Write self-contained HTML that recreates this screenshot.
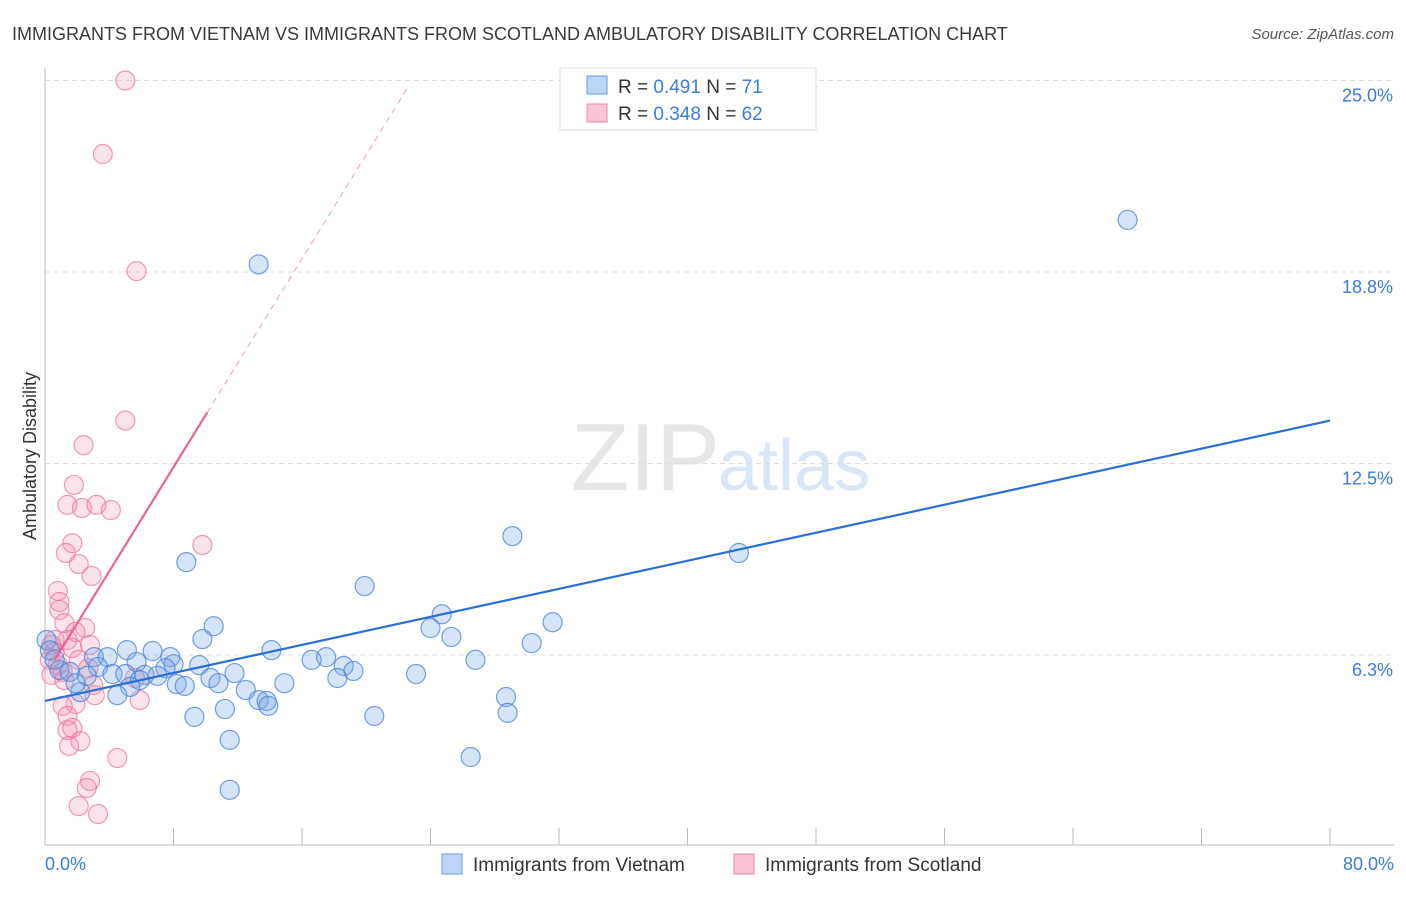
<!DOCTYPE html>
<html><head><meta charset="utf-8"><style>
body{margin:0;background:#fff;font-family:"Liberation Sans",sans-serif}
svg text{font-family:"Liberation Sans",sans-serif}
</style></head><body>
<svg id="c" width="1406" height="892">
<text x="12" y="40" font-size="18" fill="#3a3a3a">IMMIGRANTS FROM VIETNAM VS IMMIGRANTS FROM SCOTLAND AMBULATORY DISABILITY CORRELATION CHART</text>
<text x="1394" y="39" font-size="15" fill="#555" font-style="italic" text-anchor="end">Source: ZipAtlas.com</text>
<text x="720" y="490" font-size="96" fill="#e6e6e6" font-family="Liberation Serif" text-anchor="end">ZIP</text>
<text x="718" y="490" font-size="72" fill="#d8e6f6">atlas</text>
<g id="grid"></g><g id="pts"></g><g id="lines"></g>
<text x="36" y="456" font-size="18" fill="#333" text-anchor="middle" transform="rotate(-90 36 456)">Ambulatory Disability</text>
<text x="45" y="870" font-size="18" fill="#3b7dd8">0.0%</text>
<text x="1394" y="870" font-size="18" fill="#3b7dd8" text-anchor="end">80.0%</text>
<g>
<rect x="560" y="68" width="256" height="62" fill="#fff" stroke="#ddd"/>
<rect x="587" y="76" width="20" height="18" fill="#bcd4f5" stroke="#6b9de0"/>
<rect x="587" y="104" width="20" height="18" fill="#f9c5d5" stroke="#ea8aa8"/>
<text x="618" y="93" font-size="19" fill="#333">R = <tspan fill="#3b7dd8">0.491</tspan>   N = <tspan fill="#3b7dd8">71</tspan></text>
<text x="618" y="120" font-size="19" fill="#333">R = <tspan fill="#3b7dd8">0.348</tspan>   N = <tspan fill="#3b7dd8">62</tspan></text>
</g>
<g>
<rect x="442" y="854" width="20" height="20" fill="#bcd4f5" stroke="#6b9de0"/>
<text x="473" y="871" font-size="19" fill="#333">Immigrants from Vietnam</text>
<rect x="734" y="854" width="20" height="20" fill="#f9c5d5" stroke="#ea8aa8"/>
<text x="765" y="871" font-size="19" fill="#333">Immigrants from Scotland</text>
</g>
</svg>
<script>
const yTicks=[6.3,12.5,18.8,25.0];
const yTickVals=[6.25,12.5,18.75,25];
const xTickVals=[0,8,16,24,32,40,48,56,64,72,80];
const vietnamX=[13.3,67.4,29.1,43.2,8.8,19.9,24.7,31.6,24.0,10.5,25.3,9.8,30.3,14.1,5.1,6.7,3.05,3.9,7.8,5.7,16.6,17.5,26.8,9.6,8.0,18.6,19.2,7.5,11.8,3.3,0.9,1.55,4.2,5.0,6.2,7.0,23.1,18.2,2.6,5.9,10.3,8.2,8.7,10.8,14.9,12.5,5.3,2.2,4.5,28.7,13.3,13.8,13.9,11.2,9.3,20.5,28.8,11.5,26.5,11.5,0.1,0.3,0.6,1.9];
const vietnamY=[19.0,20.45,10.13,9.58,9.28,8.5,7.58,7.32,7.13,7.19,6.84,6.77,6.64,6.41,6.41,6.38,6.18,6.18,6.18,6.02,6.09,6.18,6.09,5.92,5.95,5.89,5.73,5.82,5.66,5.86,5.76,5.7,5.63,5.63,5.6,5.57,5.63,5.5,5.57,5.43,5.5,5.3,5.24,5.33,5.33,5.11,5.21,5.04,4.94,4.88,4.78,4.75,4.59,4.49,4.23,4.26,4.36,3.48,2.92,1.85,6.74,6.4,6.1,5.33];
const scotlandX=[5.0,3.6,5.7,5.0,2.4,1.8,1.4,2.3,3.2,4.1,9.8,1.7,1.3,2.1,2.9,0.8,0.9,0.9,1.2,2.5,1.9,1.4,2.8,1.7,0.6,0.4,0.6,0.3,0.8,1.1,0.4,2.7,2.1,1.2,3.0,5.6,3.1,5.9,1.9,1.1,1.4,1.4,1.7,2.2,1.5,4.5,2.8,2.6,2.1,3.3];
const scotlandY=[25.0,22.6,18.78,13.9,13.1,11.8,11.15,11.05,11.15,10.98,9.84,9.9,9.58,9.22,8.83,8.34,7.98,7.72,7.29,7.13,7.0,6.74,6.58,6.48,6.74,6.58,6.35,6.09,5.92,5.7,5.6,5.82,6.09,5.43,5.27,5.5,4.94,4.78,4.65,4.59,4.26,3.8,3.87,3.44,3.28,2.89,2.14,1.91,1.32,1.06];
const blueTrend=[4.75,13.9]; // y at x=0 and x=80
const pinkIntercept=5.58, pinkSlope=0.85, pinkSolidEnd=10.1, pinkDashEnd=22.6;
const NS="http://www.w3.org/2000/svg";
const X=v=>45+v*(1285/80), Y=v=>846.5-v*30.64;
function mk(tag,at,parent){const e=document.createElementNS(NS,tag);for(const k in at)e.setAttribute(k,at[k]);parent.appendChild(e);return e;}
const grid=document.getElementById('grid');
yTickVals.forEach((v,i)=>{
 const l=mk('line',{x1:45,x2:1394,y1:Y(v),y2:Y(v),stroke:'#ddd','stroke-dasharray':'5,4'},grid);
 
 
 const t=mk('text',{x:1393,y:Y(v)+21,'font-size':18,fill:'#3b7dd8','text-anchor':'end'},grid);
 t.textContent=yTicks[i].toFixed(1)+'%';
 
 
});
const ax=mk('line',{x1:45,x2:45,y1:68,y2:845,stroke:'#bbb'},grid);


const bx=mk('line',{x1:45,x2:1394,y1:845,y2:845,stroke:'#bbb'},grid);


xTickVals.forEach(v=>{
 const t=mk('line',{x1:X(v),x2:X(v),y1:828,y2:845,stroke:'#bbb'},grid);
 
 
});
const pts=document.getElementById('pts');
scotlandX.forEach((x,i)=>{
 const c=mk('circle',{cx:X(x),cy:Y(scotlandY[i]),r:9.5,fill:'rgba(244,140,170,0.25)',stroke:'rgba(234,120,160,0.75)','stroke-width':1.2},pts);
 
 
});
vietnamX.forEach((x,i)=>{
 const c=mk('circle',{cx:X(x),cy:Y(vietnamY[i]),r:9.5,fill:'rgba(120,165,230,0.3)',stroke:'rgba(70,130,215,0.75)','stroke-width':1.2},pts);
 
 
});
const lines=document.getElementById('lines');
const bl=mk('line',{x1:X(0),y1:Y(blueTrend[0]),x2:X(80),y2:Y(blueTrend[1]),stroke:'#2a6fd6','stroke-width':2.2},lines);


const pl=mk('line',{x1:X(0.6),y1:Y(pinkIntercept+pinkSlope*0.6),x2:X(pinkSolidEnd),y2:Y(pinkIntercept+pinkSlope*pinkSolidEnd),stroke:'#e8658f','stroke-width':2.2},lines);


const pd=mk('line',{x1:X(pinkSolidEnd),y1:Y(pinkIntercept+pinkSlope*pinkSolidEnd),x2:X(pinkDashEnd),y2:Y(pinkIntercept+pinkSlope*pinkDashEnd),stroke:'#eaa0b8','stroke-width':1,'stroke-dasharray':'6,5'},lines);


</script>
</body></html>
